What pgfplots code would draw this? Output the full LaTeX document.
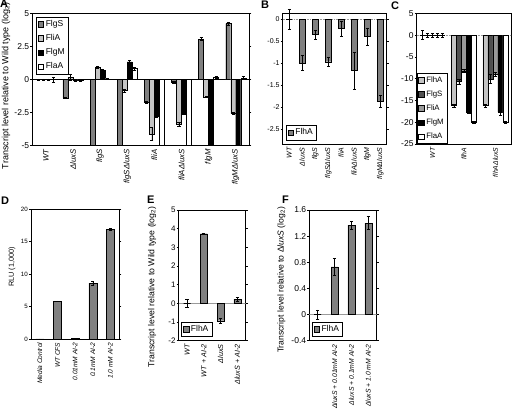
\documentclass[border=0pt]{standalone}
\usepackage{pgfplots}
\pgfplotsset{compat=1.18}
\usepackage{fontspec}
\setmainfont{Liberation Sans}
\definecolor{gmid}{HTML}{808080}
\definecolor{glight}{HTML}{C4C4C4}
\definecolor{gdark}{HTML}{505050}
\definecolor{gmid2}{HTML}{9A9A9A}
\definecolor{zline}{HTML}{9A9A9A}
\pgfplotsset{
  panel/.style={
    scale only axis, anchor=south west,
    axis line style={black, line width=0.7pt},
    /pgf/number format/assume math mode=true,
    ybar=0pt,
    xtick style={draw=none},
    ytick style={black, line width=0.5pt},
    tick align=outside, major tick length=2pt,
    xticklabel style={rotate=90, anchor=east, font=\itshape\fontsize{7.5}{8.5}\selectfont, inner sep=1.5pt},
    yticklabel style={font=\fontsize{8.5}{9.5}\selectfont, inner sep=1pt},
    legend style={font=\fontsize{8.5}{9.5}\selectfont, draw=black, line width=0.5pt, inner sep=1.5pt, row sep=2.5pt, legend cell align=left, fill=white},
  },
  sq/.style={legend image code/.code={\draw[##1, draw=black, line width=0.4pt] (0pt,-2.7pt) rectangle (5.4pt,2.7pt);}},
  eb/.style={draw=black, line width=0.4pt, error bars/.cd, y dir=both, y explicit, error bar style={black, line width=0.5pt}, error mark options={rotate=90, black, mark size=1.6pt, line width=0.5pt}},
}
\begin{document}
\begin{tikzpicture}
\path[use as bounding box] (0pt,0pt) rectangle (512pt,412pt);

% ---------------- Panel A ----------------
\begin{axis}[panel, at={(32.3pt,266.3pt)}, width=217pt, height=132.4pt,
  xmin=-0.5, xmax=7.5, ymin=-5, ymax=5, ytick={-5,-2.5,0,2.5,5},
  yticklabels={-5,-2.5,0,2.5,5},
  xtick={0,...,7}, xticklabels={WT, ΔluxS, flgS, flgSΔluxS, fliA, fliAΔluxS, flgM, flgMΔluxS},
  xticklabel style={font=\itshape\fontsize{7.8}{8.8}\selectfont},
  bar width=5pt,
  legend style={at={(0.018,0.975)}, anchor=north west},
]
\draw[black, line width=0.5pt] (axis cs:-0.5,0) -- (axis cs:7.5,0);
\addplot[fill=gmid, sq, eb] table[x=x,y=y,y error=e] {
x y e
0 0 0.04
1 -1.40 0.05
2 -5 0
3 -5 0
4 -1.72 0.10
5 -0.22 0.05
6 3.05 0.12
7 4.22 0.10
};
\addplot[fill=glight, sq, eb] table[x=x,y=y,y error=e] {
x y e
0 0 0.04
1 0.18 0.25
2 0.95 0.07
3 -0.82 0.12
4 -4.10 0.50
5 -3.38 0.15
6 -1.30 0.05
7 -2.58 0.07
};
\addplot[fill=black, sq, eb] table[x=x,y=y,y error=e] {
x y e
0 0 0.04
1 -0.06 0.08
2 0.68 0.10
3 1.33 0.12
4 -2.78 0.07
5 -2.55 0.07
6 -5 0
7 -5 0
};
\addplot[fill=white, sq, eb] table[x=x,y=y,y error=e] {
x y e
0 0 0.20
1 -0.06 0.05
2 0.06 0.05
3 0.82 0.10
4 -5 0
5 -5 0
6 0.15 0.08
7 0.12 0.13
};
\legend{FlgS, FliA, FlgM, FlaA}
\end{axis}

% ---------------- Panel B ----------------
\begin{axis}[panel, at={(282.7pt,268pt)}, width=104pt, height=130.7pt, clip=false,
  xmin=-0.5, xmax=7.5, ymin=-2.84, ymax=0.13, ytick={-2.5,-2,-1.5,-1,-0.5,0},
  yticklabels={-2.5,-2,-1.5,-1,-0.5,0},
  yticklabel style={font=\fontsize{7}{8}\selectfont},
  xticklabel style={font=\itshape\fontsize{7}{8}\selectfont},
  xtick={0,...,7}, xticklabels={WT, ΔluxS, flgS, flgSΔluxS, fliA, fliAΔluxS, flgM, flgMΔluxS},
  bar width=6pt,
  legend style={at={(0.03,0.03)}, anchor=south west},
]
\draw[zline, densely dotted, line width=0.6pt] (axis cs:-0.5,0) -- (axis cs:7.5,0);
\addplot[fill=gmid, sq, eb] table[x=x,y=y,y error=e] {
x y e
0 0 0.23
1 -1.00 0.17
2 -0.35 0.10
3 -0.97 0.10
4 -0.22 0.18
5 -1.17 0.42
6 -0.40 0.20
7 -1.87 0.14
};
\legend{FlhA}
\end{axis}

% ---------------- Panel C ----------------
\begin{axis}[panel, at={(416.7pt,268pt)}, width=94.5pt, height=130.7pt,
  xmin=-0.5, xmax=2.5, ymin=-25, ymax=5, ytick={-25,-20,...,5},
  xtick={0,1,2}, xticklabels={WT, flhA, flhAΔluxS},
  xticklabel style={font=\itshape\fontsize{6.8}{7.8}\selectfont},
  bar width=5pt,
  legend style={at={(0.0,0.0)}, anchor=south west, font=\fontsize{7.8}{8.8}\selectfont, row sep=3pt},
]
\draw[zline, densely dotted, line width=0.6pt] (axis cs:-0.5,0) -- (axis cs:2.5,0);
\addplot[fill=glight, sq, eb] table[x=x,y=y,y error=e] {
x y e
0 0 1.0
1 -16.2 0.3
2 -16.2 0.3
};
\addplot[fill=gdark, sq, eb] table[x=x,y=y,y error=e] {
x y e
0 0 0.4
1 -10.7 0.6
2 -10.1 1.0
};
\addplot[fill=gmid2, sq, eb] table[x=x,y=y,y error=e] {
x y e
0 0 0.4
1 -8.2 0.4
2 -9.0 0.5
};
\addplot[fill=black, sq, eb] table[x=x,y=y,y error=e] {
x y e
0 0 0.4
1 -17.6 0.3
2 -17.7 0.8
};
\addplot[fill=white, sq, eb] table[x=x,y=y,y error=e] {
x y e
0 0 0.4
1 -20.0 0.2
2 -20.0 0.3
};
\legend{FlhA, FlgS, FliA, FlgM, FlaA}
\end{axis}

% ---------------- Panel D ----------------
\begin{axis}[panel, at={(31pt,73pt)}, width=88.3pt, height=130pt,
  xmin=-0.5, xmax=4.5, ymin=0, ymax=20, ytick={0,5,10,15,20},
  yticklabel style={font=\fontsize{6.2}{7}\selectfont},
  xticklabel style={font=\itshape\fontsize{6.6}{7.6}\selectfont},
  xtick={0,...,4}, xticklabels={Media Control, WT CFS, 0.01mM AI-2, 0.1mM AI-2, 1.0 mM AI-2},
  bar width=8pt,
]
\addplot[fill=gmid, eb] table[x=x,y=y,y error=e] {
x y e
0 0 0
1 5.8 0.05
2 0.12 0
3 8.6 0.3
4 16.9 0.1
};
\end{axis}

% ---------------- Panel E ----------------
\begin{axis}[panel, at={(178.7pt,71.3pt)}, width=67pt, height=130.7pt,
  xmin=-0.5, xmax=3.5, ymin=-2, ymax=5, ytick={-2,-1,...,5},
  yticklabel style={font=\fontsize{8}{9}\selectfont},
  xticklabel style={font=\itshape\fontsize{7.2}{8.2}\selectfont},
  xtick={0,...,3}, xticklabels={WT, WT + AI-2, ΔluxS, ΔluxS + AI-2},
  bar width=7pt,
  legend style={at={(0.04,0.03)}, anchor=south west},
]
\draw[zline, line width=0.5pt] (axis cs:-0.5,0) -- (axis cs:3.5,0);
\addplot[fill=gmid, sq, eb] table[x=x,y=y,y error=e] {
x y e
0 0 0.2
1 3.73 0.05
2 -0.93 0.12
3 0.22 0.12
};
\legend{FlhA}
\end{axis}

% ---------------- Panel F ----------------
\begin{axis}[panel, at={(309.3pt,71.3pt)}, width=67.4pt, height=130.7pt,
  xmin=-0.5, xmax=3.5, ymin=-0.4, ymax=1.6, ytick={-0.4,0,0.4,0.8,1.2,1.6},
  yticklabels={-0.4,0,0.4,0.8,1.2,1.6},
  xticklabel style={font=\itshape\fontsize{6.8}{7.8}\selectfont},
  xtick={0,...,3}, xticklabels={, ΔluxS + 0.01mM AI-2, ΔluxS + 0.1mM AI-2, ΔluxS + 1.0 mM AI-2},
  bar width=7pt,
  legend style={at={(0.04,0.03)}, anchor=south west},
]
\draw[zline, line width=0.5pt] (axis cs:-0.5,0) -- (axis cs:3.5,0);
\addplot[fill=gmid, sq, eb] table[x=x,y=y,y error=e] {
x y e
0 0 0.07
1 0.73 0.13
2 1.37 0.06
3 1.40 0.10
};
\legend{FlhA}
\end{axis}

% ---------------- labels ----------------
\node[rotate=90, font=\fontsize{9}{10}\selectfont] at (6pt,326pt) {Transcript level relative to Wild type (log\textsubscript{2})};
\node[rotate=90, font=\fontsize{7.3}{8.3}\selectfont] at (12pt,145pt) {RLU (1,000)};
\node[rotate=90, font=\fontsize{8.7}{9.7}\selectfont] at (152pt,125pt) {Transcript level relative to Wild type (log\textsubscript{2})};
\node[rotate=90, font=\fontsize{8.6}{9.6}\selectfont] at (281.5pt,132pt) {Transcript level relative to Δ\textit{luxS} (log\textsubscript{2})};
\node[anchor=north west, inner sep=0pt, font=\bfseries\fontsize{11}{12}\selectfont] at (0pt,412pt) {A};
\node[anchor=north west, inner sep=0pt, font=\bfseries\fontsize{11}{12}\selectfont] at (261pt,411pt) {B};
\node[anchor=north west, inner sep=0pt, font=\bfseries\fontsize{11}{12}\selectfont] at (391pt,410pt) {C};
\node[anchor=north west, inner sep=0pt, font=\bfseries\fontsize{11}{12}\selectfont] at (1pt,215pt) {D};
\node[anchor=north west, inner sep=0pt, font=\bfseries\fontsize{11}{12}\selectfont] at (147pt,216pt) {E};
\node[anchor=north west, inner sep=0pt, font=\bfseries\fontsize{11}{12}\selectfont] at (282pt,216pt) {F};
\end{tikzpicture}
\end{document}
